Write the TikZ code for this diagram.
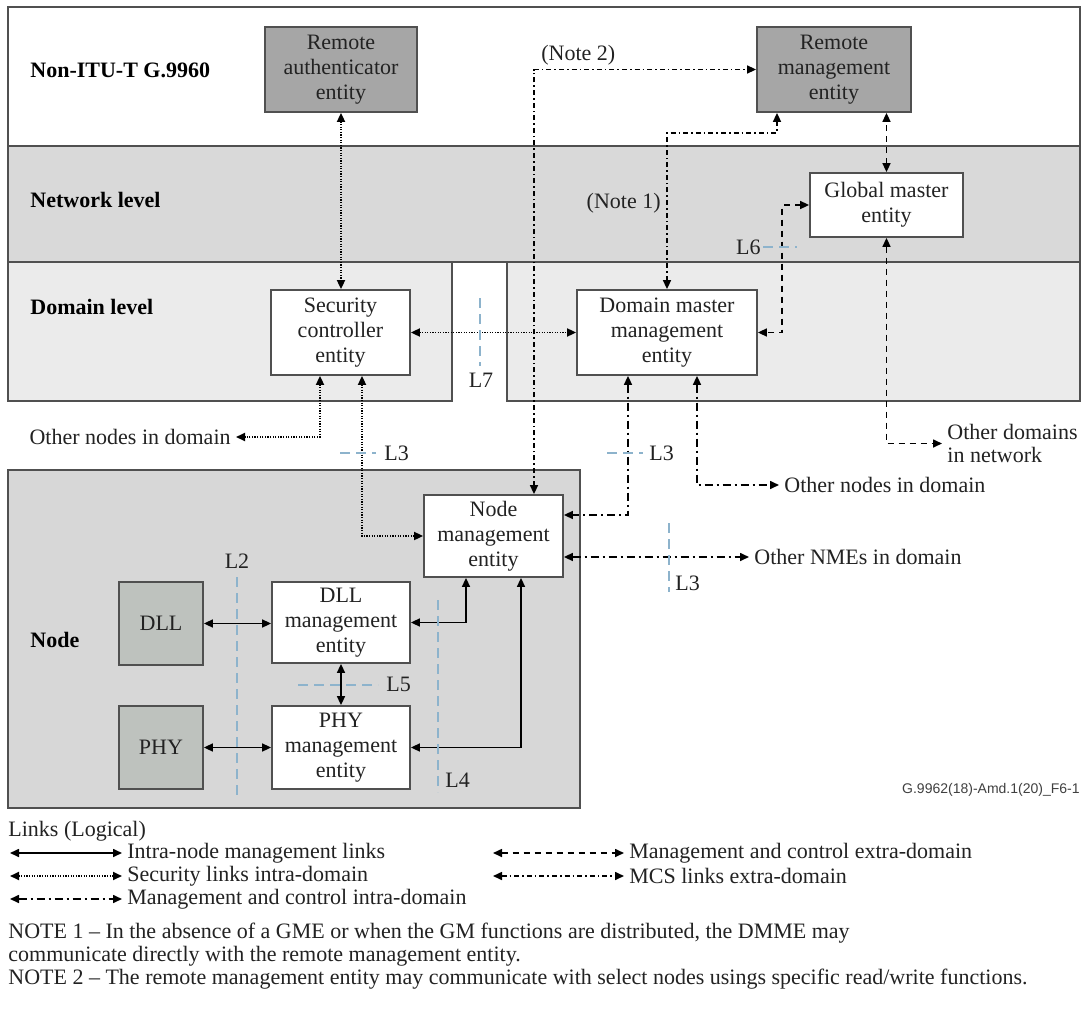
\documentclass[tikz,border=0pt]{standalone}
\usepackage{fontspec}
\setmainfont{Liberation Serif}
\newfontfamily\figsans{Liberation Sans}
\usetikzlibrary{arrows.meta}
\definecolor{bandgray}{HTML}{D9D9D9}
\definecolor{domgray}{HTML}{EBEBEB}
\definecolor{nodegray}{HTML}{D7D7D7}
\definecolor{remgray}{HTML}{A6A6A6}
\definecolor{laygray}{HTML}{BEC2BE}
\definecolor{edgegray}{HTML}{505050}
\definecolor{tickblue}{HTML}{8DB3CC}
\definecolor{inkgray}{HTML}{222222}
\begin{document}
\begin{tikzpicture}[x=0.5pt,y=-0.5pt,
  font=\fontsize{11}{12.5}\selectfont,
  text=inkgray,
  >={Triangle[length=4.5pt,width=4pt]},
  ent/.style={draw=edgegray, line width=0.9pt, fill=white, align=center, inner sep=0pt},
  rem/.style={ent, fill=remgray},
  lay/.style={ent, fill=laygray},
  lbl/.style={font=\fontsize{11}{12.5}\selectfont\bfseries, anchor=west, inner sep=0pt, text=black},
  txt/.style={inner sep=2.5pt},
  band/.style={edgegray, line width=0.9pt},
  link/.style={line width=0.8pt, black},
  intra/.style={link},
  sec/.style={link, line width=0.9pt, dash pattern=on 0.6pt off 0.7pt},
  mci/.style={link, dash pattern=on 4pt off 2pt on 1pt off 2pt},
  mce/.style={link, dash pattern=on 3pt off 2.5pt},
  mcs/.style={link, dash pattern=on 2.5pt off 1.5pt on 0.8pt off 1.5pt},
  tick/.style={tickblue, line width=0.7pt, dash pattern=on 5pt off 3pt},
  ticklbl/.style={inner sep=0pt},
]
\useasboundingbox (0,0) rectangle (1088,1012);
\fill[white] (0,0) rectangle (1088,1012);

% bands
\fill[white] (8,7) rectangle (1080,146);
\fill[bandgray] (8,146) rectangle (1080,262);
\fill[domgray] (8,262) rectangle (452,401);
\fill[domgray] (507,262) rectangle (1080,401);
\fill[nodegray] (8,470) rectangle (580,808);
\draw[band] (8,7) rectangle (1080,262);
\draw[band] (8,146) -- (1080,146);
\draw[band] (8,262) -- (8,401) -- (452,401) -- (452,262);
\draw[band] (507,262) -- (507,401) -- (1080,401) -- (1080,262);
\draw[band] (8,470) rectangle (580,808);

% band labels
\node[lbl] (lnon) at (30,70) {Non-ITU-T G.9960};
\node[lbl] (lnet) at (30,200) {Network level};
\node[lbl] (ldom) at (30,307) {Domain level};
\node[lbl] (lnode) at (30,640) {Node};

% entities
\node[rem, minimum width=76pt, minimum height=42.5pt] (rauth) at (341,69.5) {Remote\\authenticator\\entity};
\node[rem, minimum width=77pt, minimum height=42.5pt] (rmgmt) at (834,69.5) {Remote\\management\\entity};
\node[ent, minimum width=76.5pt, minimum height=32pt] (gme) at (886.5,205) {Global master\\entity};
\node[ent, minimum width=69.5pt, minimum height=42.5pt] (sce) at (340.5,332.5) {Security\\controller\\entity};
\node[ent, minimum width=90pt, minimum height=42.5pt] (dmme) at (667,332.5) {Domain master\\management\\entity};
\node[ent, minimum width=69.5pt, minimum height=41pt] (nme) at (493.5,536) {Node\\management\\entity};
\node[lay, minimum width=42pt, minimum height=41.5pt] (dll) at (161,623.5) {DLL};
\node[lay, minimum width=42pt, minimum height=41.5pt] (phy) at (161,747.5) {PHY};
\node[ent, minimum width=69pt, minimum height=40.5pt] (dllme) at (341,622.5) {DLL\\management\\entity};
\node[ent, minimum width=69pt, minimum height=41.5pt] (phyme) at (341,747.5) {PHY\\management\\entity};

% free text
\node[txt, anchor=east] (oth1) at (236,437) {Other nodes in domain};
\node[txt, anchor=west] (oth2) at (779,485) {Other nodes in domain};
\node[txt, anchor=west] (othnme) at (749,557) {Other NMEs in domain};
\node[txt, anchor=west, align=left, font=\fontsize{11}{11.5}\selectfont] (othdom) at (942,443.5) {Other domains\\in network};
\node[inner sep=0pt, anchor=west] (n2lbl) at (541,55) {(Note 2)};
\node[inner sep=0pt, anchor=east] (n1lbl) at (661,203) {(Note 1)};

% connectors
\draw[sec,<->] (rauth.south) -- (rauth.south |- sce.north);
\draw[sec,<->] (sce.east) -- (dmme.west);
\draw[sec,<->] ([xshift=-10.25pt]sce.south) |- (oth1.east);
\draw[sec,<->] ([xshift=10.75pt]sce.south) |- (nme.west);
\draw[mcs,<->] ([xshift=20.25pt]nme.north) |- (rmgmt.west);
\draw[mcs,<->] (dmme.north) |- ([xshift=-28.5pt,yshift=-10pt]rmgmt.south) -- ([xshift=-28.5pt]rmgmt.south);
\draw[mce,<->] (gme.north) -- (gme.north |- rmgmt.south);
\draw[mce,<->] (gme.west) -- ++(-13.5pt,0) |- (dmme.east);
\draw[mce,<->] (gme.south) |- (othdom.west);
\draw[mci,<->] ([xshift=-19.5pt]dmme.south) |- ([yshift=10.5pt]nme.east);
\draw[mci,<->] ([xshift=15pt]dmme.south) |- (oth2.west);
\draw[mci,<->] ([yshift=-10.5pt]nme.east) -- (othnme.west);
\draw[intra,<->] (dll.east) -- (dll.east -| dllme.west);
\draw[intra,<->] (phy.east) -- (phyme.west);
\draw[intra,<->] (dllme.south) -- (phyme.north);
\draw[intra,<->] (dllme.east) -| ([xshift=-13.75pt]nme.south);
\draw[intra,<->] (phyme.east) -| ([xshift=13.75pt]nme.south);

% reference points
\draw[tick] (480,298) -- (480,366);
\node[ticklbl] (l7) at (481,380) {L7};
\draw[tick] (763,247) -- (797,247);
\node[ticklbl, anchor=east] (l6) at (761,247) {L6};
\draw[tick] (340,453) -- (376,453);
\node[ticklbl, anchor=west] (l3a) at (384,453) {L3};
\draw[tick] (607,453) -- (643,453);
\node[ticklbl, anchor=west] (l3b) at (649,453) {L3};
\draw[tick] (669,523) -- (669,592);
\node[ticklbl, anchor=west] (l3c) at (675,583) {L3};
\draw[tick] (237,577) -- (237,797);
\node[ticklbl] (l2) at (237,561) {L2};
\draw[tick] (438,600) -- (438,792);
\node[ticklbl, anchor=west] (l4) at (445,780) {L4};
\draw[tick] (298,685) -- (378,685);
\node[ticklbl, anchor=west] (l5) at (386,684) {L5};

% code
\node[anchor=east, inner sep=0pt, font=\figsans\fontsize{7}{8}\selectfont, text=black!75] (code) at (1080,790) {G.9962(18)-Amd.1(20)\_F6-1};

% legend
\node[inner sep=0pt, anchor=west] (lgh) at (8,831) {Links (Logical)};
\coordinate (lg1) at (10,853);
\node[txt, anchor=west] (lg1t) at (122,853) {Intra-node management links};
\draw[intra,<->] (lg1) -- (lg1t.west);
\coordinate (lg2) at (10,876);
\node[txt, anchor=west] (lg2t) at (122,876) {Security links intra-domain};
\draw[sec,<->] (lg2) -- (lg2t.west);
\coordinate (lg3) at (10,899);
\node[txt, anchor=west] (lg3t) at (122,899) {Management and control intra-domain};
\draw[mci,<->] (lg3) -- (lg3t.west);
\coordinate (lg4) at (493,853);
\node[txt, anchor=west] (lg4t) at (624,853) {Management and control extra-domain};
\draw[mce,<->] (lg4) -- (lg4t.west);
\coordinate (lg5) at (493,876);
\node[txt, anchor=west] (lg5t) at (624,876) {MCS links extra-domain};
\draw[mcs,<->] (lg5) -- (lg5t.west);

% notes
\node[inner sep=0pt, anchor=west] (note1a) at (8,933) {NOTE 1 – In the absence of a GME or when the GM functions are distributed, the DMME may};
\node[inner sep=0pt, anchor=west] (note1b) at (8,956) {communicate directly with the remote management entity.};
\node[inner sep=0pt, anchor=west] (note2) at (8,979) {NOTE 2 – The remote management entity may communicate with select nodes usings specific read/write functions.};
\end{tikzpicture}
\end{document}
